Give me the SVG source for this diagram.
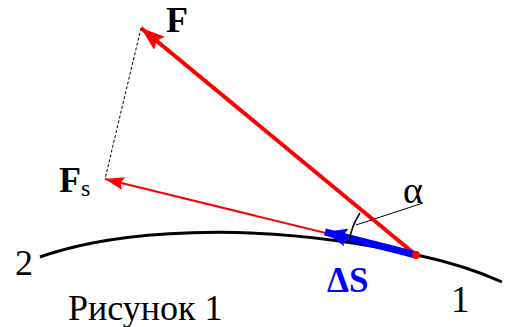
<svg xmlns="http://www.w3.org/2000/svg" width="512" height="327" viewBox="0 0 512 327">
<defs>
<style>
.t{font-family:'Liberation Serif','Times New Roman',serif;fill:#000}
.b{font-weight:bold}
.red{stroke:#ff0000;fill:none}
</style>
<marker id="ahF" markerUnits="userSpaceOnUse" viewBox="0 0 24 17" refX="24" refY="8.5" markerWidth="24" markerHeight="17" orient="auto"><path d="M0,0 L24,8.5 L0,17 L4,8.5 Z" fill="#ff0000"/></marker>
<marker id="ahFs" markerUnits="userSpaceOnUse" viewBox="0 0 19 13" refX="19" refY="6.5" markerWidth="19" markerHeight="13" orient="auto"><path d="M0,0 L19,6.5 L0,13 L3,6.5 Z" fill="#ff0000"/></marker>
<marker id="ahS" markerUnits="userSpaceOnUse" viewBox="0 0 22 18" refX="22" refY="9" markerWidth="22" markerHeight="18" orient="auto"><path d="M0,0 L22,9 L0,18 L4,9 Z" fill="#0000ff"/></marker>
</defs>
<rect width="512" height="327" fill="#fff"/>
<g id="curve">
<path d="M40,257 C110,232 250,218 417,255 C450,262 480,272 502,282" fill="none" stroke="#000" stroke-width="3"/>
</g>
<g id="connectors">
<line x1="141" y1="28" x2="105" y2="179" stroke="#000" stroke-width="1" stroke-dasharray="3,2"/>
<line class="red" x1="416" y1="255" x2="105" y2="179" stroke-width="2" marker-end="url(#ahFs)"/>
<line class="red" x1="416" y1="255" x2="141" y2="28" stroke-width="4" marker-end="url(#ahF)"/>
<line x1="416" y1="255" x2="325" y2="232" stroke="#0000ff" stroke-width="7" marker-end="url(#ahS)"/>
<path d="M360,213 A69,69 0 0,0 349,243" fill="none" stroke="#000" stroke-width="1.5"/>
<line x1="356" y1="225" x2="423" y2="203" stroke="#000" stroke-width="1"/>
<circle cx="416" cy="255" r="4" fill="#ff0000"/>
</g>
<g id="labels" font-family="Liberation Serif, Times New Roman, serif">
<text class="t b" x="166" y="32" font-size="36" font-family="Liberation Serif, serif">F</text>
<text class="t b" x="59" y="192" font-size="36" font-family="Liberation Serif, serif">F<tspan font-weight="normal" font-size="24" dy="4">s</tspan></text>
<text class="b" x="327" y="292" font-size="35" fill="#0000ff" font-family="Liberation Serif, serif">ΔS</text>
<text class="t" x="403" y="203" font-size="38" font-family="Liberation Serif, serif">α</text>
<text class="t" x="15" y="275" font-size="36" font-family="Liberation Serif, serif">2</text>
<text class="t" x="451" y="312" font-size="37" font-family="Liberation Serif, serif">1</text>
<text class="t" x="68" y="320" font-size="36" font-family="Liberation Serif, serif">Рисунок 1</text>
</g>
</svg>
